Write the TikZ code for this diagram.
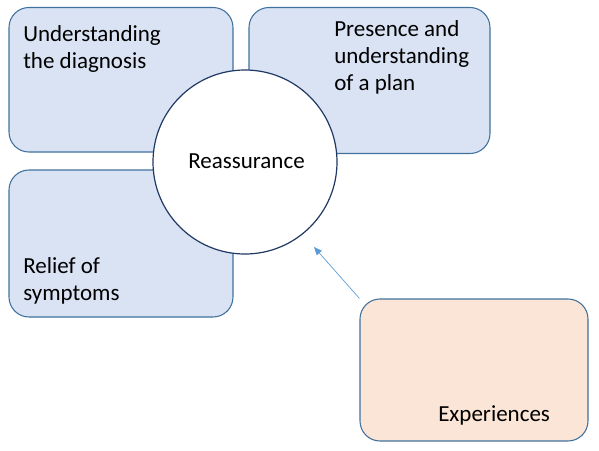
\documentclass[tikz,border=0pt]{standalone}
\usepackage{fontspec}
\setmainfont{Carlito}
\usetikzlibrary{arrows.meta}
\definecolor{boxfill}{HTML}{DAE3F3}
\definecolor{boxline}{HTML}{41719C}
\definecolor{circline}{HTML}{203864}
\definecolor{expfill}{HTML}{FBE5D6}
\definecolor{arrowcol}{HTML}{5B9BD5}
\tikzset{
  bluebox/.style={draw=boxline, fill=boxfill, line width=0.8pt, rounded corners=15pt, inner sep=0pt},
  expbox/.style={draw=boxline, fill=expfill, line width=0.8pt, rounded corners=15pt, inner sep=0pt},
  centre/.style={draw=circline, fill=white, line width=0.9pt, circle, inner sep=0pt, minimum size=138pt},
  label/.style={font=\fontsize{17.25pt}{20.25pt}\selectfont, align=left, inner sep=0pt, anchor=base west},
  link/.style={draw=arrowcol, line width=0.5pt, -{Triangle[length=6pt,width=5pt]}}
}
\begin{document}
\begin{tikzpicture}[x=0.75pt,y=-0.75pt]
\useasboundingbox (0,0) rectangle (599,450);
\node[bluebox, minimum width=168pt, minimum height=108.4pt] (tl) at (121,79.75) {};
\node[bluebox, minimum width=180.75pt, minimum height=109.5pt] (tr) at (369.5,80.5) {};
\node[bluebox, minimum width=168pt, minimum height=110.25pt] (bl) at (121,243.5) {};
\node[expbox, minimum width=171pt, minimum height=106.5pt] (exp) at (474,370) {};
\node[centre] (reas) at (245,162) {};
\node[label] (tltext) at (23,68.5) {Understanding\\the diagnosis};
\node[label] (trtext) at (334,90.5) {Presence and\\understanding\\of a plan};
\node[label] (bltext) at (23,300.5) {Relief of\\symptoms};
\node[label, anchor=base] (reastext) at (246.5,168) {Reassurance};
\node[label] (exptext) at (438,421.7) {Experiences};
\coordinate (tip) at (314,247);
\draw[link] (exp.north west) -- (tip);
\end{tikzpicture}
\end{document}
